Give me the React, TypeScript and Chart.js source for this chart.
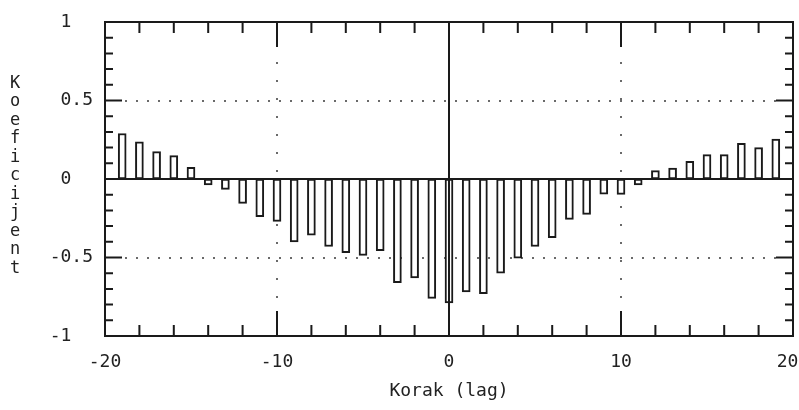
import React, { useEffect, useRef } from "react";
import { Chart, registerables } from "chart.js";

Chart.register(...registerables);

const lags = [
  -19, -18, -17, -16, -15, -14, -13, -12, -11, -10, -9, -8, -7, -6, -5, -4, -3, -2, -1, 0,
  1, 2, 3, 4, 5, 6, 7, 8, 9, 10, 11, 12, 13, 14, 15, 16, 17, 18, 19,
];
const coefficients = [
  0.29, 0.236, 0.174, 0.149, 0.075, -0.038, -0.066, -0.155, -0.24, -0.27, -0.4, -0.357, -0.43,
  -0.47, -0.486, -0.457, -0.66, -0.63, -0.76, -0.79, -0.72, -0.73, -0.6, -0.505, -0.43, -0.374,
  -0.257, -0.225, -0.096, -0.098, -0.038, 0.053, 0.07, 0.113, 0.155, 0.155, 0.227, 0.2, 0.255,
];
const xTickValues = [-20, -10, 0, 10, 20];
const xTickLabels = ["-20", "-10", "0", "10", "20 "];
const yTickValues = [-1, -0.5, 0, 0.5, 1];
const yTickLabels = ["-1  ", "-0.5", "0  ", "0.5", "1  "];
const xTitle = "Korak (lag)";
const yTitle = "Koeficijent";

const FONT = '"DejaVu Sans Mono", "Liberation Mono", monospace';

const framePlugin = {
  id: "framePlugin",
  beforeDatasetsDraw(chart: any) {
    const { ctx, chartArea, scales } = chart;
    const { left, right, top, bottom } = chartArea;
    const xs = scales.x;
    const ys = scales.y;
    ctx.save();
    ctx.fillStyle = "#6a6a6a";
    [0.5, -0.5].forEach((v) => {
      const y = Math.round(ys.getPixelForValue(v));
      for (let x = left + 20; x < right - 14; x += 11) {
        ctx.fillRect(x, y - 1, 2, 2);
      }
    });
    [-10, 10].forEach((v) => {
      const x = Math.round(xs.getPixelForValue(v));
      for (let y = top + 40; y < bottom - 28; y += 18) {
        ctx.fillRect(x - 1, y, 2, 2);
      }
    });
    ctx.restore();
  },
  afterDatasetsDraw(chart: any) {
    const { ctx, chartArea, scales } = chart;
    const { left, right, top, bottom } = chartArea;
    const xs = scales.x;
    const ys = scales.y;
    ctx.save();
    ctx.strokeStyle = "#1a1a1a";
    ctx.lineWidth = 2;
    ctx.lineCap = "butt";
    const y0 = ys.getPixelForValue(0);
    const x0 = xs.getPixelForValue(0);
    ctx.beginPath();
    ctx.moveTo(left, y0);
    ctx.lineTo(right, y0);
    ctx.moveTo(x0, top);
    ctx.lineTo(x0, bottom);
    ctx.stroke();
    ctx.beginPath();
    for (let v = -18; v <= 18; v += 2) {
      const x = xs.getPixelForValue(v);
      const len = v % 10 === 0 ? 25 : 11;
      ctx.moveTo(x, top);
      ctx.lineTo(x, top + len);
      ctx.moveTo(x, bottom);
      ctx.lineTo(x, bottom - len);
    }
    for (let i = -9; i <= 9; i++) {
      if (i === 0) continue;
      const y = ys.getPixelForValue(i / 10);
      const len = Math.abs(i) === 5 ? 17 : 8;
      ctx.moveTo(left, y);
      ctx.lineTo(left + len, y);
      ctx.moveTo(right, y);
      ctx.lineTo(right - len, y);
    }
    ctx.stroke();
    ctx.strokeRect(left, top, right - left, bottom - top);
    ctx.restore();
  },
  afterDraw(chart: any) {
    const { ctx, chartArea } = chart;
    const cy = (chartArea.top + chartArea.bottom) / 2 - 3;
    const step = 18.5;
    const chars = yTitle.split("");
    const start = cy - ((chars.length - 1) * step) / 2;
    ctx.save();
    ctx.font = `17px ${FONT}`;
    ctx.fillStyle = "#222";
    ctx.textAlign = "center";
    ctx.textBaseline = "middle";
    chars.forEach((ch, i) => ctx.fillText(ch, 15, start + i * step));
    ctx.restore();
  },
};

export default function App() {
  const ref = useRef<HTMLCanvasElement | null>(null);
  useEffect(() => {
    if (!ref.current) return;
    const chart = new Chart(ref.current, {
      type: "bar",
      data: {
        datasets: [
          {
            data: lags.map((l, i) => ({ x: l, y: coefficients[i] })),
            backgroundColor: "#ffffff",
            borderColor: "#1a1a1a",
            borderWidth: 2,
            borderSkipped: false,
            barThickness: 8,
          },
        ],
      },
      options: {
        animation: false,
        responsive: false,
        events: [],
        layout: { padding: { left: 0, top: 22, right: 6, bottom: 0 } },
        plugins: { legend: { display: false }, tooltip: { enabled: false } },
        scales: {
          x: {
            type: "linear",
            min: -20,
            max: 20,
            offset: false,
            grid: { display: false, drawTicks: false },
            border: { display: false },
            afterBuildTicks: (scale: any) => {
              scale.ticks = xTickValues.map((v) => ({ value: v }));
            },
            afterFit: (scale: any) => {
              scale.height = 74;
              scale.paddingLeft = 0;
              scale.paddingRight = 0;
            },
            ticks: {
              padding: 16,
              maxRotation: 0,
              autoSkip: false,
              color: "#222",
              font: { family: FONT, size: 18 },
              callback: (v: any) => {
                const i = xTickValues.indexOf(Number(v));
                return i >= 0 ? xTickLabels[i] : "";
              },
            },
            title: {
              display: true,
              text: xTitle,
              color: "#222",
              font: { family: FONT, size: 18 },
              padding: { top: 0, bottom: 8 },
            },
          },
          y: {
            type: "linear",
            min: -1,
            max: 1,
            grid: { display: false, drawTicks: false },
            border: { display: false },
            afterBuildTicks: (scale: any) => {
              scale.ticks = yTickValues.map((v) => ({ value: v }));
            },
            afterFit: (scale: any) => {
              scale.width = 105;
              scale.paddingTop = 0;
              scale.paddingBottom = 0;
            },
            ticks: {
              padding: 12,
              autoSkip: false,
              color: "#222",
              font: { family: FONT, size: 18 },
              callback: (v: any) => {
                const i = yTickValues.indexOf(Number(v));
                return i >= 0 ? yTickLabels[i] : "";
              },
            },
          },
        },
      },
      plugins: [framePlugin],
    } as any);
    return () => chart.destroy();
  }, []);
  return (
    <div style={{ position: "absolute", left: 0, top: 0, width: 799, height: 410, background: "#fff" }}>
      <canvas ref={ref} width={799} height={410} style={{ width: 799, height: 410 }} />
    </div>
  );
}
